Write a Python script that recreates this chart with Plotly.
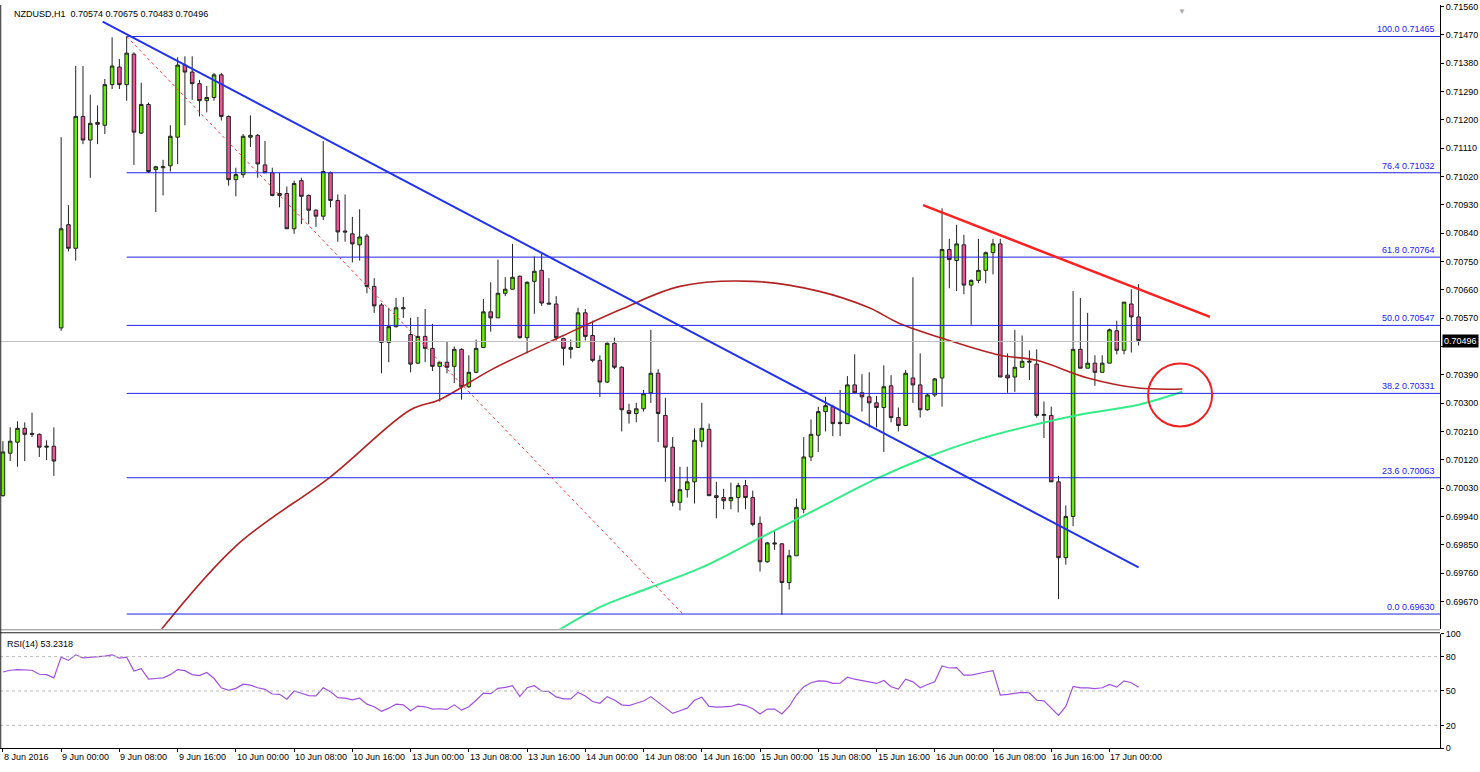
import plotly.graph_objects as go

# ---------------- data (NZDUSD H1) ----------------
open_ = [0.70006,0.70141,0.70176,0.70220,0.70204,0.70201,0.70160,0.70163,0.70539,0.70867,
         0.70792,0.71211,0.71136,0.71192,0.71183,0.71312,0.71368,0.71312,0.71409,0.71158,
         0.71249,0.71042,0.71048,0.71054,0.71145,0.71374,0.71352,0.71315,0.71261,0.71271,
         0.71343,0.71211,0.71010,0.71026,0.71145,0.71151,0.71057,0.71032,0.70960,0.70966,
         0.70854,0.71007,0.70960,0.70913,0.70894,0.71032,0.70944,0.70847,0.70838,0.70803,
         0.70831,0.70671,0.70612,0.70493,0.70543,0.70600,0.70518,0.70427,0.70512,0.70474,
         0.70417,0.70430,0.70417,0.70471,0.70352,0.70398,0.70477,0.70590,0.70571,0.70649,
         0.70662,0.70703,0.70508,0.70687,0.70722,0.70618,0.70615,0.70505,0.70471,0.70477,
         0.70587,0.70515,0.70436,0.70367,0.70490,0.70414,0.70276,0.70267,0.70282,0.70333,
         0.70395,0.70261,0.70160,0.69985,0.70025,0.70050,0.70179,0.70217,0.70006,0.70000,
         0.69990,0.70000,0.70038,0.70000,0.69918,0.69796,0.69856,0.69853,0.69730,0.69815,
         0.69963,0.70129,0.70198,0.70273,0.70289,0.70239,0.70235,0.70358,0.70333,0.70320,
         0.70301,0.70286,0.70355,0.70254,0.70229,0.70380,0.70358,0.70279,0.70326,0.70380,
         0.70788,0.70753,0.70803,0.70675,0.70690,0.70722,0.70778,0.70806,0.70389,0.70383,
         0.70414,0.70430,0.70424,0.70261,0.70261,0.70050,0.69809,0.69940,0.70471,0.70411,
         0.70427,0.70398,0.70427,0.70530,0.70468,0.70615,0.70574]
high = [0.70179,0.70223,0.70242,0.70239,0.70270,0.70204,0.70182,0.70223,0.71145,0.70929,
        0.71371,0.71371,0.71280,0.71246,0.71330,0.71462,0.71393,0.71465,0.71415,0.71318,
        0.71255,0.71054,0.71073,0.71183,0.71399,0.71402,0.71402,0.71327,0.71308,0.71349,
        0.71349,0.71214,0.71048,0.71155,0.71214,0.71155,0.71133,0.71048,0.71032,0.70988,
        0.71007,0.71016,0.70963,0.70916,0.71133,0.71036,0.70963,0.70963,0.70892,0.70916,
        0.70838,0.70697,0.70618,0.70603,0.70634,0.70637,0.70571,0.70574,0.70599,0.70552,
        0.70430,0.70496,0.70480,0.70474,0.70452,0.70502,0.70631,0.70684,0.70756,0.70700,
        0.70806,0.70706,0.70687,0.70766,0.70775,0.70697,0.70640,0.70508,0.70502,0.70603,
        0.70599,0.70562,0.70452,0.70493,0.70508,0.70417,0.70298,0.70301,0.70342,0.70533,
        0.70408,0.70317,0.70192,0.70098,0.70098,0.70220,0.70301,0.70235,0.70050,0.70028,
        0.70047,0.70047,0.70056,0.70022,0.69940,0.69859,0.69894,0.69856,0.69834,0.69997,
        0.70192,0.70248,0.70289,0.70320,0.70295,0.70342,0.70386,0.70455,0.70392,0.70398,
        0.70323,0.70420,0.70389,0.70286,0.70405,0.70700,0.70458,0.70330,0.70380,0.70919,
        0.70822,0.70867,0.70835,0.70693,0.70822,0.70782,0.70822,0.70822,0.70458,0.70533,
        0.70515,0.70468,0.70471,0.70305,0.70289,0.70069,0.69975,0.70656,0.70634,0.70587,
        0.70452,0.70452,0.70537,0.70562,0.70621,0.70662,0.70678]
low = [0.70003,0.70116,0.70098,0.70116,0.70192,0.70129,0.70119,0.70069,0.70530,0.70782,
       0.70753,0.71123,0.71016,0.71123,0.71155,0.71298,0.71298,0.71261,0.71057,0.71155,
       0.71032,0.70907,0.70960,0.71036,0.71060,0.71183,0.71264,0.71211,0.71224,0.71261,
       0.71198,0.70991,0.70957,0.71016,0.71114,0.71016,0.71032,0.70957,0.70922,0.70854,
       0.70838,0.70869,0.70869,0.70860,0.70882,0.70922,0.70813,0.70813,0.70747,0.70753,
       0.70649,0.70587,0.70395,0.70430,0.70540,0.70571,0.70398,0.70424,0.70430,0.70402,
       0.70305,0.70395,0.70364,0.70311,0.70348,0.70395,0.70477,0.70527,0.70571,0.70640,
       0.70662,0.70505,0.70458,0.70584,0.70609,0.70615,0.70499,0.70420,0.70442,0.70477,
       0.70499,0.70430,0.70320,0.70364,0.70408,0.70210,0.70235,0.70239,0.70273,0.70301,
       0.70176,0.70050,0.69972,0.69959,0.70000,0.69981,0.70160,0.70006,0.69934,0.69963,
       0.69963,0.69953,0.69963,0.69909,0.69765,0.69793,0.69834,0.69627,0.69708,0.69815,
       0.69950,0.70116,0.70145,0.70210,0.70195,0.70195,0.70235,0.70333,0.70273,0.70223,
       0.70223,0.70145,0.70239,0.70210,0.70229,0.70301,0.70254,0.70276,0.70320,0.70289,
       0.70665,0.70656,0.70646,0.70549,0.70681,0.70681,0.70709,0.70383,0.70333,0.70336,
       0.70414,0.70373,0.70254,0.70189,0.70050,0.69677,0.69787,0.69909,0.70411,0.70411,
       0.70355,0.70398,0.70427,0.70455,0.70455,0.70461,0.70483]
close = [0.70145,0.70179,0.70220,0.70201,0.70201,0.70160,0.70163,0.70116,0.70854,0.70792,
         0.71211,0.71136,0.71189,0.71186,0.71312,0.71371,0.71312,0.71412,0.71161,0.71249,
         0.71036,0.71051,0.71051,0.71148,0.71374,0.71352,0.71315,0.71261,0.71271,0.71343,
         0.71211,0.71010,0.71026,0.71148,0.71151,0.71060,0.71032,0.70960,0.70966,0.70854,
         0.70998,0.70957,0.70913,0.70894,0.71036,0.70944,0.70844,0.70844,0.70806,0.70828,
         0.70671,0.70609,0.70493,0.70543,0.70603,0.70603,0.70424,0.70512,0.70474,0.70417,
         0.70430,0.70414,0.70471,0.70352,0.70398,0.70474,0.70590,0.70571,0.70649,0.70662,
         0.70700,0.70508,0.70684,0.70719,0.70618,0.70615,0.70508,0.70474,0.70477,0.70587,
         0.70512,0.70436,0.70367,0.70490,0.70414,0.70279,0.70267,0.70282,0.70330,0.70395,
         0.70267,0.70160,0.69985,0.70025,0.70050,0.70182,0.70220,0.70006,0.70000,0.69990,
         0.70000,0.70038,0.70000,0.69915,0.69796,0.69856,0.69853,0.69730,0.69815,0.69969,
         0.70129,0.70201,0.70273,0.70292,0.70235,0.70235,0.70358,0.70333,0.70320,0.70301,
         0.70286,0.70352,0.70254,0.70229,0.70395,0.70358,0.70279,0.70326,0.70377,0.70788,
         0.70756,0.70806,0.70675,0.70690,0.70722,0.70778,0.70806,0.70383,0.70380,0.70414,
         0.70433,0.70433,0.70261,0.70264,0.70050,0.69809,0.69940,0.70471,0.70411,0.70427,
         0.70398,0.70427,0.70533,0.70468,0.70621,0.70574,0.70499]
rsi = [66.6,68.1,68.7,68.1,68.1,64.6,64.3,61.5,79.6,76.7,81.6,79.0,79.3,79.6,80.4,81.6,78.7,79.6,67.5,69.5,
       60.3,60.9,61.5,64.3,68.7,67.8,64.3,63.5,66.1,60.9,52.8,50.5,52.3,56.0,55.1,52.8,51.4,47.4,47.1,42.8,
       50.0,48.0,46.0,45.7,52.8,49.4,44.2,43.7,42.2,43.7,38.5,36.2,32.2,35.0,38.5,37.9,32.7,36.8,36.2,34.2,
       34.5,33.9,37.9,33.3,36.2,41.9,48.2,47.7,52.3,53.1,54.6,45.1,52.8,54.6,50.0,49.4,44.8,43.1,43.1,48.8,
       45.7,40.8,39.3,45.1,42.2,37.9,37.3,39.3,41.3,45.1,40.2,35.0,30.4,32.7,35.0,41.9,44.5,36.5,35.9,36.2,
       36.5,38.5,37.3,34.5,29.9,34.2,34.2,29.9,36.5,46.5,53.7,57.2,58.9,58.6,56.6,56.9,62.0,60.3,58.9,58.0,
       56.6,59.2,53.7,51.7,60.3,58.0,52.8,55.7,58.0,71.8,70.1,70.4,63.8,63.8,64.9,66.6,67.8,46.5,47.1,48.2,
       48.8,48.5,41.9,41.4,35.0,28.7,36.5,54.0,52.8,52.8,52.0,52.8,55.7,53.4,58.9,57.2,53.2]

ma_red_x = [20, 32, 45, 56, 60, 67, 77, 85, 93, 103, 112, 119, 123, 130, 137, 142, 149, 156, 162]
ma_red_y = [0.69530,0.69846,0.70066,0.70279,0.70311,0.70405,0.70515,0.70599,0.70671,0.70687,
            0.70656,0.70603,0.70555,0.70499,0.70452,0.70436,0.70380,0.70348,0.70345]
ma_green_x = [75, 82, 89, 96, 104, 112, 120, 127, 134, 142, 148, 156, 162]
ma_green_y = [0.69560,0.69652,0.69715,0.69778,0.69872,0.69966,0.70060,0.70129,0.70185,0.70233,
              0.70264,0.70295,0.70336]

fib_levels = [0.71465, 0.71032, 0.70764, 0.70547, 0.70331, 0.70063, 0.69630]
fib_pct = ["100.0", "76.4", "61.8", "50.0", "38.2", "23.6", "0.0"]
time_idx = list(range(0, 153, 8))
time_lbl = ["8 Jun 2016", "9 Jun 00:00", "9 Jun 08:00", "9 Jun 16:00", "10 Jun 00:00", "10 Jun 08:00",
            "10 Jun 16:00", "13 Jun 00:00", "13 Jun 08:00", "13 Jun 16:00", "14 Jun 00:00", "14 Jun 08:00",
            "14 Jun 16:00", "15 Jun 00:00", "15 Jun 08:00", "15 Jun 16:00", "16 Jun 00:00", "16 Jun 08:00",
            "16 Jun 16:00", "17 Jun 00:00"]
price_ticks = [round(0.69580 + 0.0009 * k, 5) for k in range(23)]
last_price = 0.70496
# ---------------------------------------------------

n = len(close)
idx = list(range(n))
XR = [-0.4, 197.4]
FONT = "Liberation Sans"
# tick hidden under the current-price box (as in the terminal)
price_text = ["" if abs(v - last_price) < 0.0003 else f"{v:.5f}" for v in price_ticks]

fig = go.Figure()
fig.add_trace(go.Candlestick(
    x=idx, open=open_, high=high, low=low, close=close,
    increasing=dict(fillcolor="#66ee00", line=dict(color="#222222", width=1)),
    decreasing=dict(fillcolor="#ee5599", line=dict(color="#222222", width=1)),
    whiskerwidth=0, xaxis="x", yaxis="y", showlegend=False))
fig.add_trace(go.Scatter(x=ma_red_x, y=ma_red_y, mode="lines", line=dict(color="#b22222", width=1.6, shape="spline"),
                         xaxis="x", yaxis="y", showlegend=False))
fig.add_trace(go.Scatter(x=ma_green_x, y=ma_green_y, mode="lines", line=dict(color="#33ee88", width=2, shape="spline"),
                         xaxis="x", yaxis="y", showlegend=False))
fig.add_trace(go.Scatter(x=idx, y=rsi, mode="lines", line=dict(color="#a050e0", width=1.2),
                         xaxis="x2", yaxis="y2", showlegend=False))

shapes = []
for lv in fib_levels:
    shapes.append(dict(type="line", xref="x", yref="y", x0=17, x1=XR[1], y0=lv, y1=lv,
                       line=dict(color="#2222ee", width=1)))
shapes.append(dict(type="line", xref="x", yref="y", x0=XR[0], x1=XR[1], y0=last_price, y1=last_price,
                   line=dict(color="#c0c0c0", width=1)))
shapes.append(dict(type="line", xref="x", yref="y", x0=17, x1=93.4, y0=fib_levels[0], y1=fib_levels[-1],
                   line=dict(color="#ee4444", width=1, dash="dot")))
shapes.append(dict(type="line", xref="x", yref="y", x0=13.7, x1=156, y0=0.71512, y1=0.69778,
                   line=dict(color="#2233ee", width=2)))
shapes.append(dict(type="line", xref="x", yref="y", x0=126.4, x1=165.8, y0=0.70929, y1=0.70574,
                   line=dict(color="#ff2222", width=2.5)))
shapes.append(dict(type="circle", xref="x", yref="y", x0=157.3, x1=166.1, y0=0.70226, y1=0.70426,
                   line=dict(color="#ee2222", width=2)))
for lv in [20, 50, 80]:
    shapes.append(dict(type="line", xref="x2", yref="y2", x0=XR[0], x1=XR[1], y0=lv, y1=lv,
                       line=dict(color="#bbbbbb", width=1, dash="dot")))
shapes.append(dict(type="line", xref="paper", yref="paper", x0=0, x1=1440/1480, y0=1-633/772, y1=1-633/772,
                   line=dict(color="#888888", width=1)))
shapes.append(dict(type="line", xref="paper", yref="paper", x0=0, x1=1440/1480, y0=1-636/772, y1=1-636/772,
                   line=dict(color="#222222", width=1)))
shapes.append(dict(type="line", xref="paper", yref="paper", x0=0.0005, x1=0.0005, y0=1-753/772, y1=1,
                   line=dict(color="#222222", width=1)))

annotations = []
for lv, pc in zip(fib_levels, fib_pct):
    annotations.append(dict(xref="paper", yref="y", x=1437/1480, y=lv, text=f"{pc} {lv:.5f}",
                            xanchor="right", yanchor="bottom", showarrow=False,
                            font=dict(family=FONT, size=9, color="#2222ee")))
for ti, tl in zip(time_idx, time_lbl):
    annotations.append(dict(xref="x2", yref="paper", x=ti, y=1-755/772, text=tl, xanchor="left", xshift=-1,
                            yanchor="top", showarrow=False, font=dict(family=FONT, size=9, color="#000000")))
annotations.append(dict(xref="paper", yref="y", x=1442/1480, y=last_price, text=f"{last_price:.5f}",
                        xanchor="left", yanchor="middle", showarrow=False, bgcolor="#000000", borderpad=1,
                        font=dict(family=FONT, size=9, color="#ffffff")))
annotations.append(dict(xref="paper", yref="paper", x=12/1480, y=1-2/772, xanchor="left", yanchor="top",
                        text="NZDUSD,H1  0.70574 0.70675 0.70483 0.70496", showarrow=False,
                        font=dict(family=FONT, size=9, color="#000000")))
annotations.append(dict(xref="paper", yref="paper", x=5/1480, y=1-640/772, xanchor="left", yanchor="top",
                        text="RSI(14) 53.2318", showarrow=False, font=dict(family=FONT, size=9, color="#000000")))
annotations.append(dict(xref="paper", yref="paper", x=1182/1480, y=1, xanchor="center", yanchor="top",
                        text="▼", showarrow=False, font=dict(family=FONT, size=8, color="#aaaaaa")))

fig.update_layout(
    width=1480, height=772, margin=dict(l=0, r=0, t=0, b=0),
    paper_bgcolor="white", plot_bgcolor="white",
    font=dict(family=FONT, size=9, color="#000000"),
    shapes=shapes, annotations=annotations, showlegend=False,
    xaxis=dict(domain=[0, 1440/1480], range=XR, anchor="y", showticklabels=False, showgrid=False,
               zeroline=False, rangeslider=dict(visible=False), fixedrange=True),
    yaxis=dict(domain=[1-632/772, 1], range=[0.69583, 0.71565], side="right", anchor="x",
               tickvals=price_ticks, ticktext=price_text,
               ticks="outside", ticklen=3, tickcolor="#000", showgrid=False, zeroline=False,
               showline=True, linecolor="#000", linewidth=1, tickfont=dict(size=9)),
    xaxis2=dict(domain=[0, 1440/1480], range=XR, anchor="y2", tickvals=time_idx, ticktext=[""]*len(time_idx),
                ticks="outside", ticklen=3, tickcolor="#000", showgrid=False, zeroline=False,
                showline=True, linecolor="#000", linewidth=1),
    yaxis2=dict(domain=[1-753/772, 1-637/772], range=[0, 100], side="right", anchor="x2",
                tickvals=[0, 20, 50, 80, 100], ticks="outside", ticklen=3, tickcolor="#000",
                showgrid=False, zeroline=False, showline=True, linecolor="#000", linewidth=1,
                tickfont=dict(size=9)),
)
fig.write_html("out.html", config={"displayModeBar": False},
               post_script="document.body.style.margin='0';document.body.style.overflow='hidden';")
